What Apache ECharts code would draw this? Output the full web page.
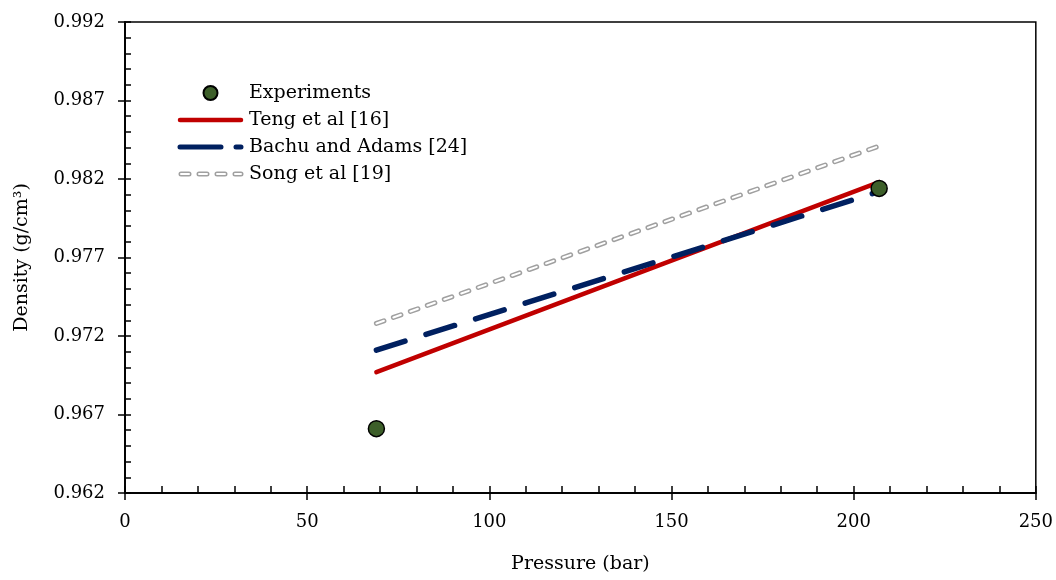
<!DOCTYPE html>
<html><head><meta charset="utf-8">
<script src="https://cdn.jsdelivr.net/npm/echarts@6/dist/echarts.min.js"></script>
<style>html,body{margin:0;padding:0;background:#fff}#c{width:1056px;height:580px}</style>
</head><body><div id="c"></div>
<script>
const expPressure = [69, 207];
const expDensity = [0.9661, 0.9814];
const linePressure = [69, 207];
const tengDensity = [0.9697, 0.9818];
const bachuDensity = [0.9711, 0.9812];
const songDensity = [0.9728, 0.9841];
const xTicks = [0, 50, 100, 150, 200, 250];
const yTicks = [0.962, 0.967, 0.972, 0.977, 0.982, 0.987, 0.992];

const F = 'DejaVu Serif';
const pair = (xs, ys) => xs.map((x, i) => [x, ys[i]]);

const svgIcon = body => 'image://data:image/svg+xml;utf8,' + encodeURIComponent(
  '<svg xmlns="http://www.w3.org/2000/svg" width="67" height="14">' + body + '</svg>');
const songIcon = svgIcon(
  '<line x1="4" y1="7" x2="64" y2="7" stroke="#a0a0a0" stroke-width="5" stroke-linecap="round" stroke-dasharray="8 10"/>' +
  '<line x1="4" y1="7" x2="64" y2="7" stroke="#fff" stroke-width="2" stroke-linecap="round" stroke-dasharray="8 10"/>');
const tengIcon = svgIcon('<line x1="3" y1="7" x2="64" y2="7" stroke="#c00000" stroke-width="4.5" stroke-linecap="round"/>');
const bachuIcon = svgIcon('<line x1="3" y1="7" x2="64" y2="7" stroke="#002060" stroke-width="5" stroke-linecap="round" stroke-dasharray="41 15"/>');

const chart = echarts.init(document.getElementById('c'));
const axisCommon = {
  axisLine: {show: true, lineStyle: {color: '#000', width: 1.5}},
  splitLine: {show: false}
};
chart.setOption({
  animation: false,
  backgroundColor: '#fff',
  grid: {left: 125, right: 20, top: 22, bottom: 87, show: true, borderColor: '#000', borderWidth: 1.5},
  xAxis: [
    Object.assign({}, axisCommon, {
      type: 'value', min: xTicks[0], max: xTicks[xTicks.length - 1], interval: 50,
      name: 'Pressure (bar)', nameLocation: 'middle', nameGap: 62,
      nameTextStyle: {fontFamily: F, fontSize: 19, color: '#000'},
      axisTick: {show: true, inside: false, length: 7, lineStyle: {color: '#000', width: 1.5}},
      axisLabel: {fontFamily: F, fontSize: 18, color: '#000', margin: 20}
    }),
    Object.assign({}, axisCommon, {
      type: 'value', position: 'bottom', min: 0, max: 250, interval: 10,
      axisTick: {show: true, inside: true, length: 7, lineStyle: {color: '#000', width: 1.5}},
      axisLabel: {show: false}
    })
  ],
  yAxis: [
    Object.assign({}, axisCommon, {
      type: 'value', min: yTicks[0], max: yTicks[yTicks.length - 1], interval: 0.005,
      name: 'Density (g/cm³)', nameLocation: 'middle', nameGap: 93,
      nameTextStyle: {fontFamily: F, fontSize: 19, color: '#000'},
      axisTick: {show: true, inside: false, length: 7, lineStyle: {color: '#000', width: 1.5}},
      axisLabel: {fontFamily: F, fontSize: 18, color: '#000', margin: 20, formatter: v => v.toFixed(3)}
    }),
    Object.assign({}, axisCommon, {
      type: 'value', position: 'left', min: 0.962, max: 0.992, interval: 0.001,
      axisTick: {show: true, inside: true, length: 6, lineStyle: {color: '#000', width: 1.5}},
      axisLabel: {show: false}
    })
  ],
  legend: {
    orient: 'vertical', left: 172, top: 78, itemWidth: 67, itemHeight: 14, itemGap: 7,
    textStyle: {fontFamily: F, fontSize: 19, color: '#000', lineHeight: 20},
    data: [
      {name: 'Experiments'},
      {name: 'Teng et al [16]', icon: tengIcon},
      {name: 'Bachu and Adams [24]', icon: bachuIcon},
      {name: 'Song et al [19]', icon: songIcon}
    ]
  },
  series: [
    {name: 'Song et al [19]', type: 'line', data: pair(linePressure, songDensity), showSymbol: false, symbol: 'none',
     lineStyle: {color: '#a0a0a0', width: 5, type: [8, 10], cap: 'round'}, itemStyle: {color: '#a0a0a0'}, z: 2},
    {name: 'Song et al [19]', type: 'line', data: pair(linePressure, songDensity), showSymbol: false, symbol: 'none',
     lineStyle: {color: '#fff', width: 2, type: [8, 10], cap: 'round'}, itemStyle: {color: '#fff'}, z: 3},
    {name: 'Bachu and Adams [24]', type: 'line', data: pair(linePressure, bachuDensity), showSymbol: false, symbol: 'none',
     lineStyle: {color: '#002060', width: 5.5, type: [30, 22], cap: 'round'}, itemStyle: {color: '#002060'}, z: 4},
    {name: 'Teng et al [16]', type: 'line', data: pair(linePressure, tengDensity), showSymbol: false, symbol: 'none',
     lineStyle: {color: '#c00000', width: 4.5, cap: 'round'}, itemStyle: {color: '#c00000'}, z: 3},
    {name: 'Experiments', type: 'scatter', data: pair(expPressure, expDensity), symbol: 'circle', symbolSize: 16,
     itemStyle: {color: '#3d5f2a', borderColor: '#000', borderWidth: 1.5, opacity: 1}, z: 6}
  ]
});
</script></body></html>
